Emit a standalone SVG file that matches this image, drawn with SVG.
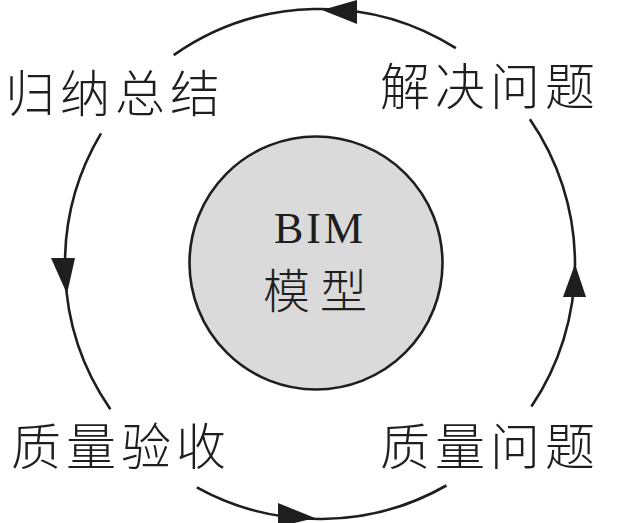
<svg xmlns="http://www.w3.org/2000/svg" width="623" height="523" viewBox="0 0 623 523">
<style>
.arc{fill:none;stroke:#1e1e1e;stroke-width:2.6;}
.head{fill:#1e1e1e;stroke:none;}
.lbl{font-family:"Noto Sans CJK SC","Noto Sans",sans-serif;font-size:50px;font-weight:300;fill:#1e1e1e;letter-spacing:5px;}
.core{fill:#dadada;stroke:#1e1e1e;stroke-width:2.6;}
.latin{font-family:"Liberation Serif",serif;font-size:44px;letter-spacing:3px;fill:#1e1e1e;}
.cjk{font-family:"Noto Sans CJK SC","Noto Sans",sans-serif;font-size:47px;font-weight:300;letter-spacing:10px;fill:#1e1e1e;}
</style>
<rect width="623" height="523" fill="#ffffff"/>
<g id="connectors">
<path class="arc" d="M 455.9 48.2 A 255 255 0 0 0 173.7 55.1"/>
<path class="arc" d="M 101 133.4 A 255 255 0 0 0 110.4 409.2"/>
<path class="arc" d="M 196.8 487.3 A 255 255 0 0 0 446.4 485.5"/>
<path class="arc" d="M 531.4 406.6 A 255 255 0 0 0 529.9 119.2"/>
<polygon class="head" points="322,10 357,0 357,24"/>
<polygon class="head" points="51,258 75,258 67,294"/>
<polygon class="head" points="278,503 278,527 315,518"/>
<polygon class="head" points="563,297 586,297 575,264"/>
</g>
<g id="node-bim">
<circle class="core" cx="316" cy="263" r="126.5"/>
<text class="latin" x="274" y="243">BIM</text>
<text class="cjk" x="263" y="308">模型</text>
</g>
<g id="node-summarize"><text class="lbl" x="5" y="112">归纳总结</text></g>
<g id="node-solve"><text class="lbl" x="380" y="105">解决问题</text></g>
<g id="node-acceptance"><text class="lbl" x="11" y="465">质量验收</text></g>
<g id="node-problem"><text class="lbl" x="380" y="465">质量问题</text></g>
</svg>
